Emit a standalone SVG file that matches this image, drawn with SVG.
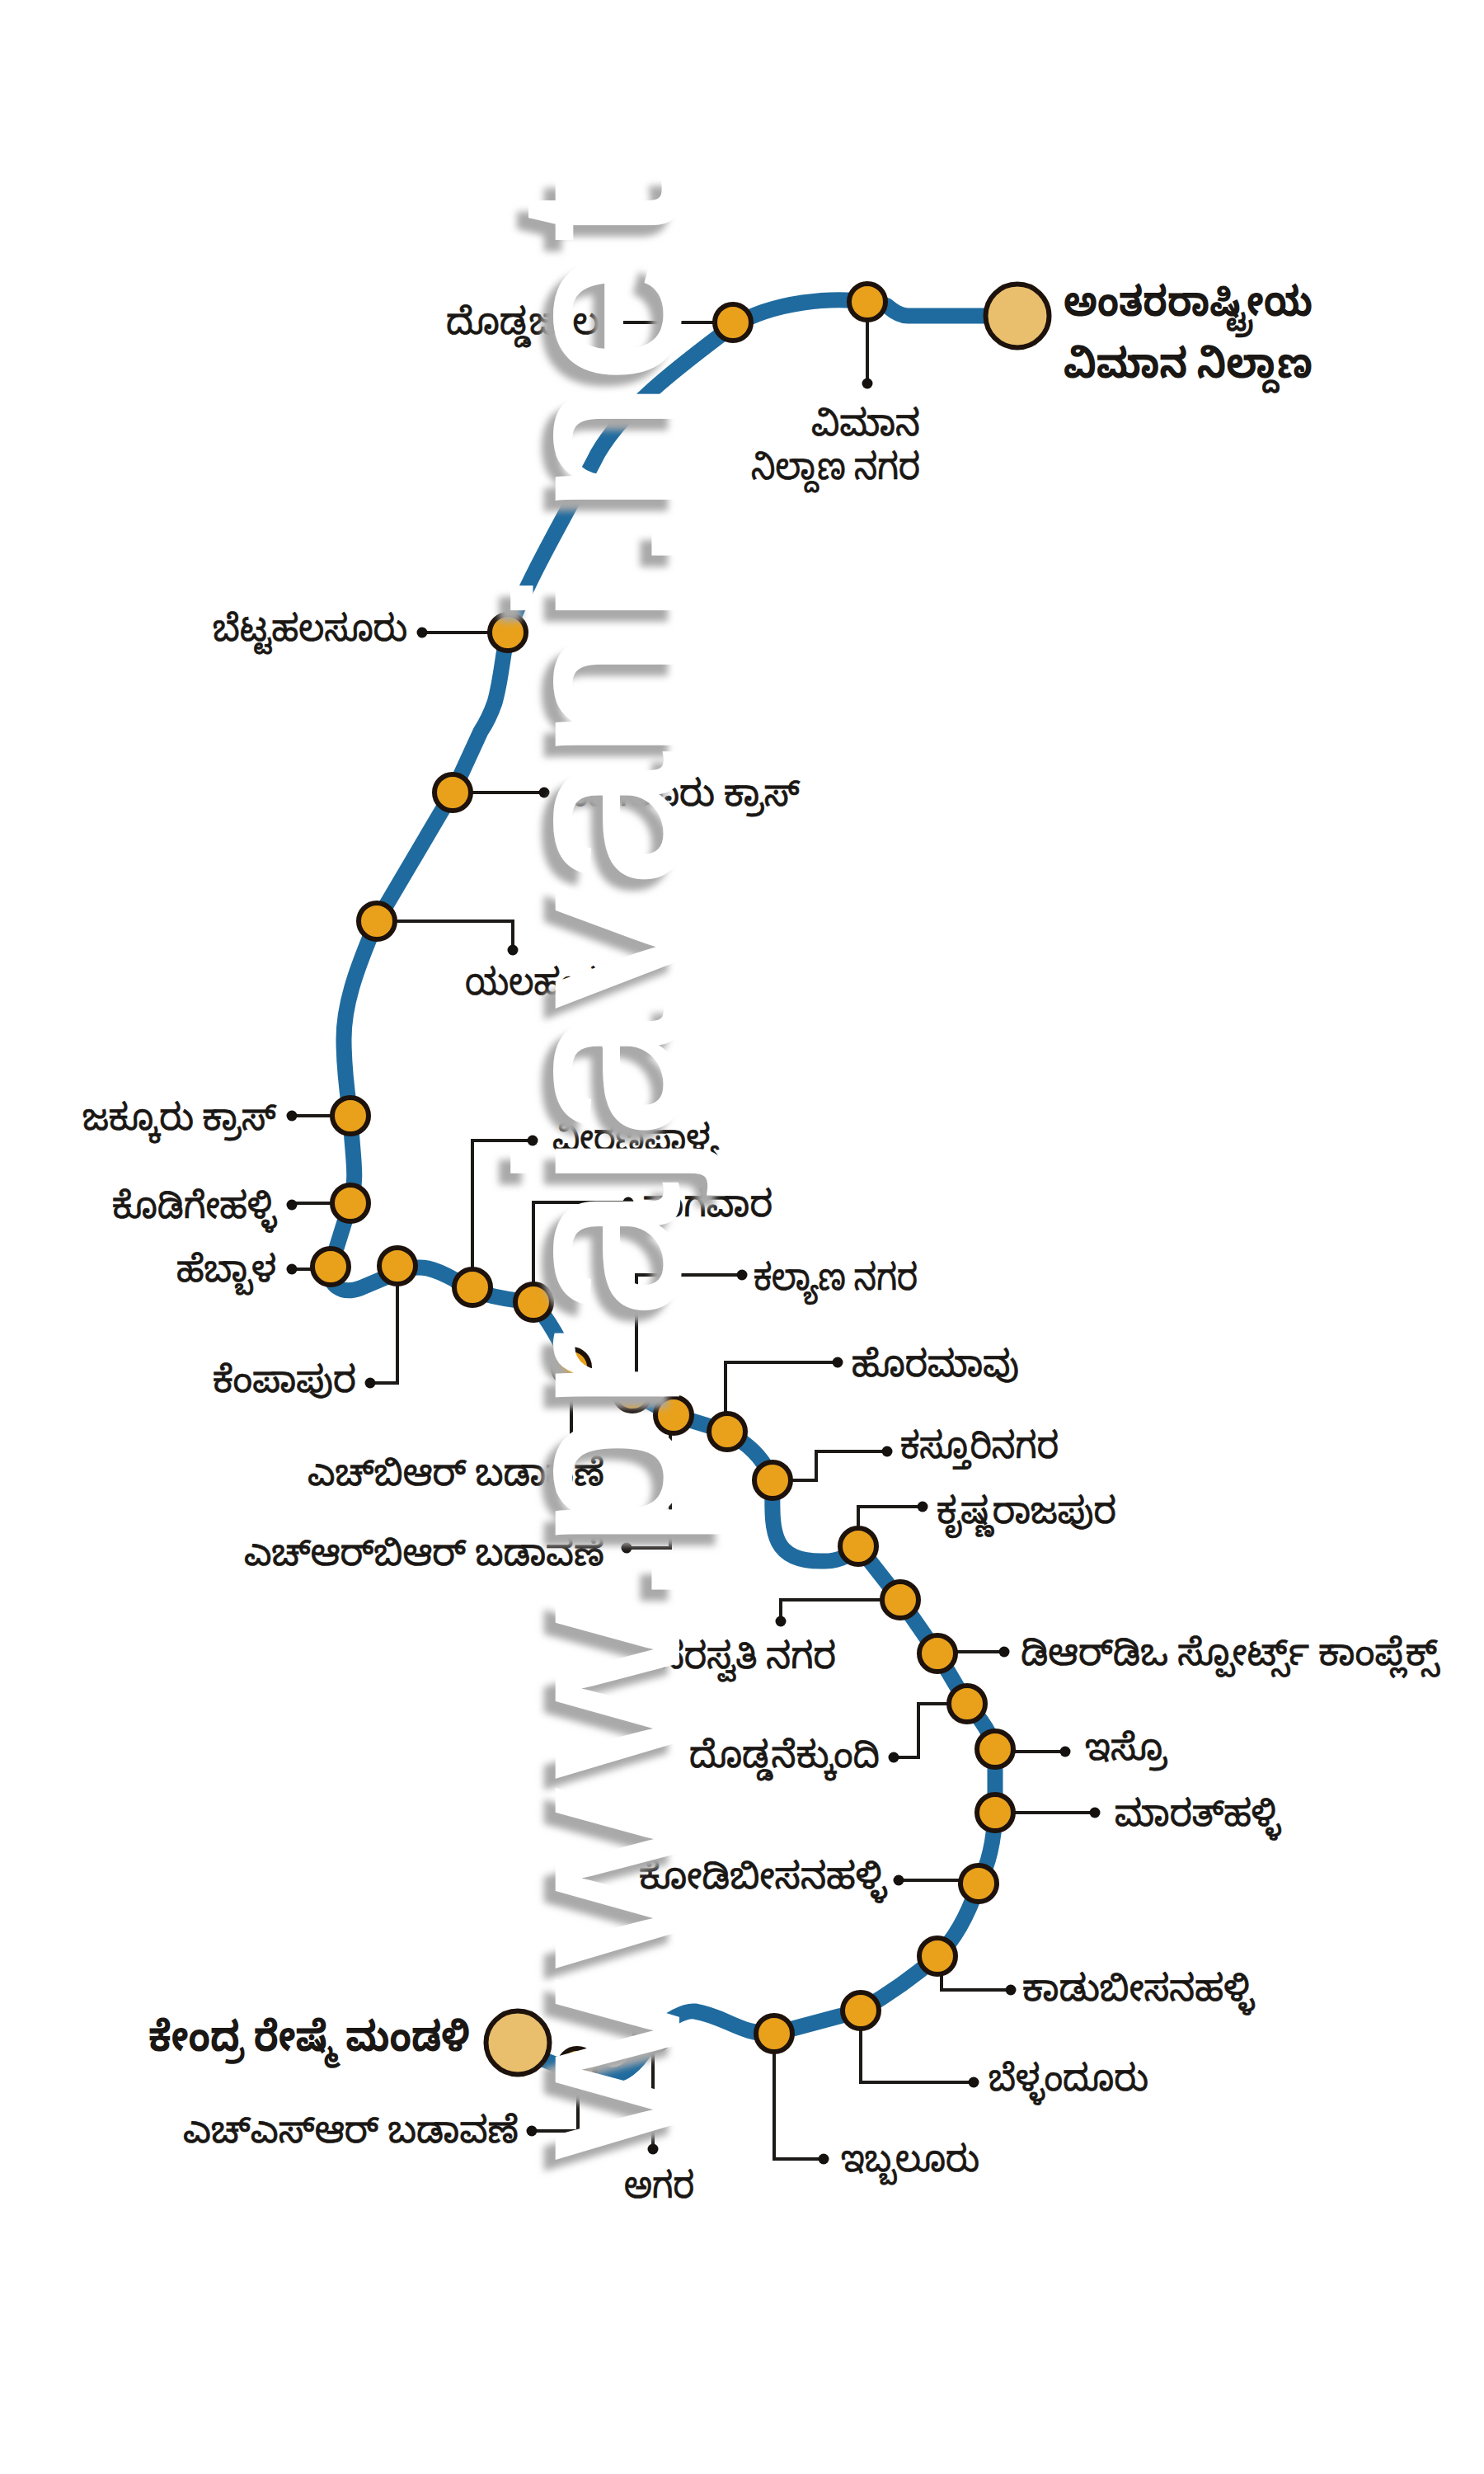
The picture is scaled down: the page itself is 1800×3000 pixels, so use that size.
<svg xmlns="http://www.w3.org/2000/svg" width="1800" height="3000" viewBox="0 0 1800 3000">
<defs>
<style>
.line{fill:none;stroke:#1f6b9f;stroke-width:19;stroke-linejoin:round;stroke-linecap:round}
.lead{fill:none;stroke:#1c1a17;stroke-width:4}
.dot{fill:#14110e}
.st{fill:#e9a11b;stroke:#1d120c;stroke-width:6}
.term{fill:#e9bf6e;stroke:#1d120c;stroke-width:6}
text{font-family:"Noto Sans","Noto Sans Kannada","Lohit Kannada","DejaVu Sans",sans-serif;fill:#1a1714}
.lb{font-size:44px;stroke:#1a1714;stroke-width:.7}
.big{font-size:50px;font-weight:700}
.wm{font-family:"Liberation Sans",sans-serif;font-size:277px;fill:#fff;stroke:#fff;stroke-width:4;filter:url(#sh)}
</style>
<filter id="sh" x="-5%" y="-15%" width="110%" height="130%"><feDropShadow dx="-13" dy="-14" stdDeviation="4" flood-color="#a9a9a9"/></filter>
</defs>
<rect width="1800" height="3000" fill="#fff"/>
<g id="connectors">
<path class="line" d="M1234 383L1101 383Q1090 383 1076 371Q1065 366 1052 366C1010 360 940 365 889 395C830 440 760 490 725 550C700 600 640 700 616 767C610 790 608 825 600 852Q593 872 583 887L549 961L457 1117C430 1180 417 1220 417 1260C417 1300 422 1330 425 1353C428 1410 434 1425 425 1459L401 1536C398 1560 415 1570 437 1562L482 1543C510 1530 530 1540 552 1552C565 1565 600 1575 647 1579C665 1600 680 1625 693 1658C710 1680 740 1680 767 1689L817 1716L882 1736C905 1750 925 1765 937 1795C937 1850 930 1895 1000 1893Q1025 1893 1041 1875L1092 1940L1137 2005L1173 2066Q1200 2095 1207 2121L1207 2198Q1205 2250 1187 2284C1175 2320 1160 2350 1137 2372C1105 2400 1075 2420 1044 2438L939 2466C900 2468 880 2445 843 2439Q825 2437 792 2465C790 2470 785 2485 780 2490Q760 2518 740 2516L700 2506L673 2503Q650 2495 628 2477"/>
<g class="lead">
<path d="M889 391H742"/><path d="M1052 366V465"/><path d="M616 767H512"/><path d="M549 961H660"/>
<path d="M457 1117H622V1152"/><path d="M425 1353H354"/><path d="M425 1459H354"/><path d="M401 1539H354"/>
<path d="M482 1535V1677H449"/><path d="M573 1561V1383H646"/><path d="M647 1579V1458H762"/><path d="M772 1700V1546H900"/>
<path d="M693 1658V1746"/><path d="M817 1716H813V1877H760"/><path d="M880 1736V1652H1016"/><path d="M937 1795H990V1760H1076"/>
<path d="M1041 1875V1827H1119"/><path d="M1092 1940H947V1966"/><path d="M1137 2003H1218"/><path d="M1173 2066H1114V2131H1084"/>
<path d="M1207 2124H1292"/><path d="M1207 2198H1328"/><path d="M1187 2280H1090"/><path d="M1142 2372V2413H1226"/>
<path d="M1044 2438V2525H1181"/><path d="M939 2466V2618H999"/><path d="M792 2465V2606"/><path d="M701 2506V2584H645"/>
</g>
<g class="dot">
<circle cx="742" cy="391" r="6.5"/><circle cx="1052" cy="465" r="6.5"/><circle cx="512" cy="767" r="6.5"/><circle cx="660" cy="961" r="6.5"/>
<circle cx="622" cy="1152" r="6.5"/><circle cx="354" cy="1353" r="6.5"/><circle cx="354" cy="1461" r="6.5"/><circle cx="354" cy="1539" r="6.5"/>
<circle cx="449" cy="1677" r="6.5"/><circle cx="646" cy="1383" r="6.5"/><circle cx="762" cy="1458" r="6.5"/><circle cx="900" cy="1546" r="6.5"/>
<circle cx="693" cy="1746" r="6.5"/><circle cx="760" cy="1877" r="6.5"/><circle cx="1016" cy="1652" r="6.5"/><circle cx="1076" cy="1760" r="6.5"/>
<circle cx="1119" cy="1827" r="6.5"/><circle cx="947" cy="1966" r="6.5"/><circle cx="1218" cy="2003" r="6.5"/><circle cx="1084" cy="2131" r="6.5"/>
<circle cx="1292" cy="2124" r="6.5"/><circle cx="1328" cy="2198" r="6.5"/><circle cx="1090" cy="2280" r="6.5"/><circle cx="1226" cy="2413" r="6.5"/>
<circle cx="1181" cy="2525" r="6.5"/><circle cx="999" cy="2618" r="6.5"/><circle cx="792" cy="2606" r="6.5"/><circle cx="645" cy="2584" r="6.5"/>
</g>
</g>
<g id="n-airport"><circle class="term" cx="1234" cy="383" r="38.5"/><text class="big" x="1290" y="383" textLength="302" lengthAdjust="spacingAndGlyphs">ಅಂತರರಾಷ್ಟ್ರೀಯ</text><text class="big" x="1290" y="458" textLength="302" lengthAdjust="spacingAndGlyphs">ವಿಮಾನ ನಿಲ್ದಾಣ</text></g>
<g id="n-vimana"><circle class="st" cx="1052" cy="366" r="22"/><text class="lb" x="984" y="528" textLength="132" lengthAdjust="spacingAndGlyphs">ವಿಮಾನ</text><text class="lb" x="911" y="581" textLength="205" lengthAdjust="spacingAndGlyphs">ನಿಲ್ದಾಣ ನಗರ</text></g>
<g id="n-doddajala"><circle class="st" cx="889" cy="391" r="22"/><text class="lb" x="541" y="405" textLength="186" lengthAdjust="spacingAndGlyphs">ದೊಡ್ಡಜಾಲ</text></g>
<g id="n-bettahalasuru"><circle class="st" cx="616" cy="767" r="22"/><text class="lb" x="258" y="777" textLength="236" lengthAdjust="spacingAndGlyphs">ಬೆಟ್ಟಹಲಸೂರು</text></g>
<g id="n-bagalur"><circle class="st" cx="549" cy="961" r="22"/><text class="lb" x="680" y="977" textLength="290" lengthAdjust="spacingAndGlyphs">ಬಾಗಲೂರು ಕ್ರಾಸ್</text></g>
<g id="n-yelahanka"><circle class="st" cx="457" cy="1117" r="22"/><text class="lb" x="564" y="1206" textLength="160" lengthAdjust="spacingAndGlyphs">ಯಲಹಂಕ</text></g>
<g id="n-jakkur"><circle class="st" cx="425" cy="1353" r="22"/><text class="lb" x="100" y="1370" textLength="235" lengthAdjust="spacingAndGlyphs">ಜಕ್ಕೂರು ಕ್ರಾಸ್</text></g>
<g id="n-kodigehalli"><circle class="st" cx="425" cy="1459" r="22"/><text class="lb" x="136" y="1477" textLength="199" lengthAdjust="spacingAndGlyphs">ಕೊಡಿಗೇಹಳ್ಳಿ</text></g>
<g id="n-hebbal"><circle class="st" cx="401" cy="1536" r="22"/><text class="lb" x="214" y="1554" textLength="121" lengthAdjust="spacingAndGlyphs">ಹೆಬ್ಬಾಳ</text></g>
<g id="n-kempapura"><circle class="st" cx="482" cy="1535" r="22"/><text class="lb" x="258" y="1688" textLength="174" lengthAdjust="spacingAndGlyphs">ಕೆಂಪಾಪುರ</text></g>
<g id="n-veeranapalya"><circle class="st" cx="573" cy="1561" r="22"/><text class="lb" x="670" y="1395" textLength="202" lengthAdjust="spacingAndGlyphs">ವೀರಣಪಾಳ್ಯ</text></g>
<g id="n-nagawara"><circle class="st" cx="647" cy="1579" r="22"/><text class="lb" x="780" y="1475" textLength="157" lengthAdjust="spacingAndGlyphs">ನಾಗವಾರ</text></g>
<g id="n-hbr"><circle class="st" cx="693" cy="1658" r="22"/><text class="lb" x="373" y="1801" textLength="360" lengthAdjust="spacingAndGlyphs">ಎಚ್‌ಬಿಆರ್ ಬಡಾವಣೆ</text></g>
<g id="n-kalyan"><circle class="st" cx="767" cy="1689" r="22"/><text class="lb" x="914" y="1564" textLength="199" lengthAdjust="spacingAndGlyphs">ಕಲ್ಯಾಣ ನಗರ</text></g>
<g id="n-hrbr"><circle class="st" cx="817" cy="1716" r="22"/><text class="lb" x="296" y="1898" textLength="437" lengthAdjust="spacingAndGlyphs">ಎಚ್‌ಆರ್‌ಬಿಆರ್ ಬಡಾವಣೆ</text></g>
<g id="n-horamavu"><circle class="st" cx="882" cy="1736" r="22"/><text class="lb" x="1033" y="1669" textLength="203" lengthAdjust="spacingAndGlyphs">ಹೊರಮಾವು</text></g>
<g id="n-kasturinagar"><circle class="st" cx="937" cy="1795" r="22"/><text class="lb" x="1092" y="1768" textLength="192" lengthAdjust="spacingAndGlyphs">ಕಸ್ತೂರಿನಗರ</text></g>
<g id="n-krpuram"><circle class="st" cx="1041" cy="1875" r="22"/><text class="lb" x="1136" y="1847" textLength="218" lengthAdjust="spacingAndGlyphs">ಕೃಷ್ಣರಾಜಪುರ</text></g>
<g id="n-saraswati"><circle class="st" cx="1092" cy="1940" r="22"/><text class="lb" x="800" y="2023" textLength="214" lengthAdjust="spacingAndGlyphs">ಸರಸ್ವತಿ ನಗರ</text></g>
<g id="n-drdo"><circle class="st" cx="1137" cy="2005" r="22"/><text class="lb" x="1238" y="2019" textLength="507" lengthAdjust="spacingAndGlyphs">ಡಿಆರ್‌ಡಿಒ ಸ್ಪೋರ್ಟ್ಸ್ ಕಾಂಪ್ಲೆಕ್ಸ್</text></g>
<g id="n-doddanekundi"><circle class="st" cx="1173" cy="2066" r="22"/><text class="lb" x="836" y="2143" textLength="231" lengthAdjust="spacingAndGlyphs">ದೊಡ್ಡನೆಕ್ಕುಂದಿ</text></g>
<g id="n-isro"><circle class="st" cx="1207" cy="2121" r="22"/><text class="lb" x="1316" y="2134" textLength="100" lengthAdjust="spacingAndGlyphs">ಇಸ್ರೊ</text></g>
<g id="n-marathahalli"><circle class="st" cx="1207" cy="2198" r="22"/><text class="lb" x="1352" y="2214" textLength="201" lengthAdjust="spacingAndGlyphs">ಮಾರತ್‌ಹಳ್ಳಿ</text></g>
<g id="n-kodibeesanahalli"><circle class="st" cx="1187" cy="2284" r="22"/><text class="lb" x="775" y="2290" textLength="300" lengthAdjust="spacingAndGlyphs">ಕೋಡಿಬೀಸನಹಳ್ಳಿ</text></g>
<g id="n-kadubeesanahalli"><circle class="st" cx="1137" cy="2372" r="22"/><text class="lb" x="1240" y="2426" textLength="281" lengthAdjust="spacingAndGlyphs">ಕಾಡುಬೀಸನಹಳ್ಳಿ</text></g>
<g id="n-bellandur"><circle class="st" cx="1044" cy="2438" r="22"/><text class="lb" x="1199" y="2535" textLength="194" lengthAdjust="spacingAndGlyphs">ಬೆಳ್ಳಂದೂರು</text></g>
<g id="n-iblur"><circle class="st" cx="939" cy="2466" r="22"/><text class="lb" x="1020" y="2633" textLength="168" lengthAdjust="spacingAndGlyphs">ಇಬ್ಬಲೂರು</text></g>
<g id="n-agara"><circle class="st" cx="792" cy="2465" r="22"/><text class="lb" x="757" y="2665" textLength="85" lengthAdjust="spacingAndGlyphs">ಅಗರ</text></g>
<g id="n-hsr"><circle class="st" cx="700" cy="2506" r="22"/><text class="lb" x="222" y="2598" textLength="407" lengthAdjust="spacingAndGlyphs">ಎಚ್‌ಎಸ್‌ಆರ್ ಬಡಾವಣೆ</text></g>
<g id="n-silkboard"><circle class="term" cx="628" cy="2477" r="38.5"/><text class="big" x="180" y="2487" textLength="390" lengthAdjust="spacingAndGlyphs">ಕೇಂದ್ರ ರೇಷ್ಮೆ ಮಂಡಳಿ</text></g>
<text class="wm" transform="translate(822 2620) rotate(-90) scale(1.06 1)" x="4 223 440 630 700 857 963 1113 1169 1320 1456 1602 1757 1813 1883 2033 2195">www.prajavani.net</text>
</svg>
